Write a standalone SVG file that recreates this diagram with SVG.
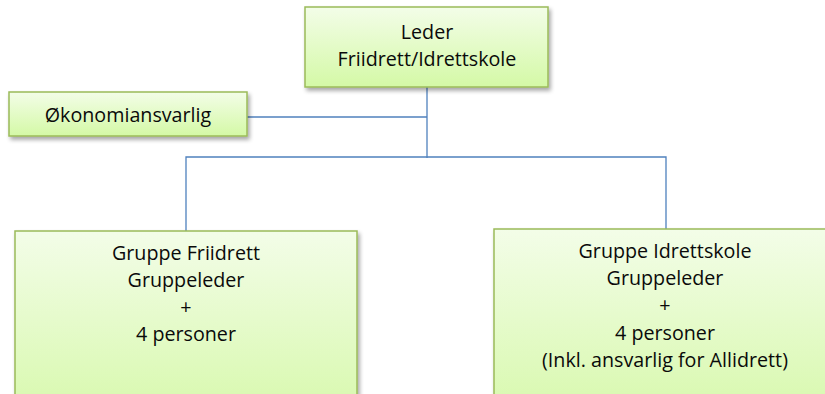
<svg xmlns="http://www.w3.org/2000/svg" width="825" height="394" viewBox="0 0 825 394">
<defs>
<linearGradient id="g" x1="0" y1="0" x2="0" y2="1">
<stop offset="0" stop-color="#f3fde8"/>
<stop offset="1" stop-color="#d4f9a6"/>
</linearGradient>
<linearGradient id="g2" x1="0" y1="0" x2="0" y2="1">
<stop offset="0" stop-color="#f3fde8"/>
<stop offset="1" stop-color="#d9f9b0"/>
</linearGradient>
<filter id="sh" x="-10%" y="-10%" width="130%" height="140%">
<feGaussianBlur in="SourceAlpha" stdDeviation="2"/>
<feOffset dx="2" dy="3" result="b"/>
<feComponentTransfer><feFuncA type="linear" slope="0.35"/></feComponentTransfer>
<feMerge><feMergeNode/><feMergeNode in="SourceGraphic"/></feMerge>
</filter>
</defs>
<style>
.box{stroke:#9bbb59;stroke-width:1.5;filter:url(#sh)}
.t{font-family:"Open Sans","Liberation Sans",sans-serif;font-size:19.7px;fill:#0a0a0a;text-anchor:middle}
.c{fill:none;stroke:#4f81bd;stroke-width:1.3}
</style>
<g id="connectors">
<path class="c" d="M427 87 V158"/>
<path class="c" d="M246 117 H427"/>
<path class="c" d="M186 231 V157 H666 V229"/>
</g>
<g id="leder">
<rect class="box" x="305" y="7" width="243" height="80" fill="url(#g)"/>
<text class="t" x="427" y="39">Leder</text>
<text class="t" x="427" y="66">Friidrett/Idrettskole</text>
</g>
<g id="okonomi">
<rect class="box" x="9" y="92" width="238" height="44" fill="url(#g)"/>
<text class="t" x="128" y="122">Økonomiansvarlig</text>
</g>
<g id="friidrett">
<rect class="box" x="15" y="231" width="342" height="175" fill="url(#g2)"/>
<text class="t" x="186" y="260">Gruppe Friidrett</text>
<text class="t" x="186" y="287">Gruppeleder</text>
<text class="t" x="186" y="314">+</text>
<text class="t" x="186" y="341">4 personer</text>
</g>
<g id="idrettskole">
<rect class="box" x="494" y="229" width="345" height="177" fill="url(#g2)"/>
<text class="t" x="665" y="258">Gruppe Idrettskole</text>
<text class="t" x="665" y="285">Gruppeleder</text>
<text class="t" x="665" y="312">+</text>
<text class="t" x="665" y="340">4 personer</text>
<text class="t" x="665" y="367">(Inkl. ansvarlig for Allidrett)</text>
</g>
</svg>
